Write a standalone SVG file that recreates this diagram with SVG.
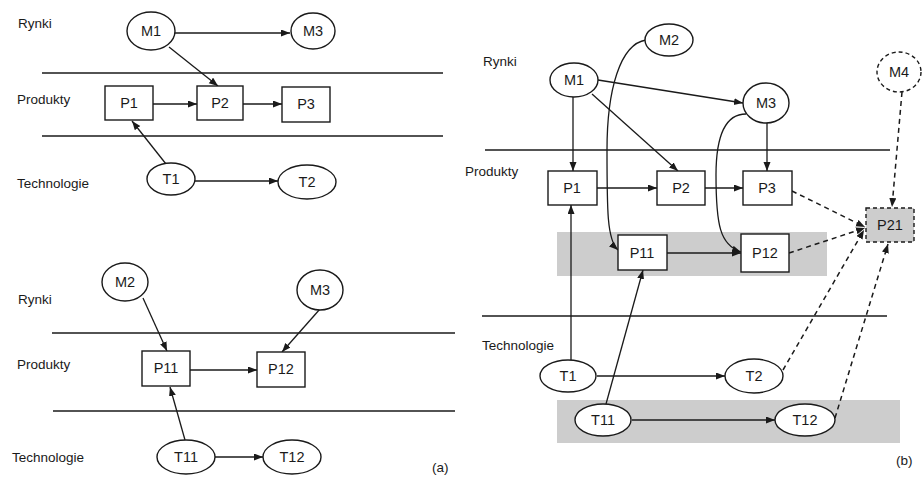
<svg xmlns="http://www.w3.org/2000/svg" width="922" height="478" viewBox="0 0 922 478">
<defs>
<marker id="ah" markerUnits="userSpaceOnUse" markerWidth="10" markerHeight="8" refX="9" refY="3.5" orient="auto"><path d="M0,0 L9,3.5 L0,7 z" fill="#1a1a1a"/></marker>
<style>
.n ellipse,.n rect{fill:#fff;stroke:#1a1a1a;stroke-width:1.4}
.n text,.lab{font-family:"Liberation Sans",Arial,sans-serif;fill:#1a1a1a}
.n text{font-size:14.5px;text-anchor:middle}
.lab{font-size:13.5px}
.sep{stroke:#1a1a1a;stroke-width:1.4}
.c path,.c line{fill:none;stroke:#1a1a1a;stroke-width:1.3;marker-end:url(#ah)}
.c .d{stroke-dasharray:5,4;stroke-width:1.5}
.dn rect,.dn ellipse{stroke-dasharray:4,3}
.band{fill:#cdcdcd}
</style>
</defs>
<rect width="922" height="478" fill="#fff"/>
<g id="labels">
<text class="lab" x="18" y="28">Rynki</text>
<text class="lab" x="17" y="104">Produkty</text>
<text class="lab" x="17" y="188">Technologie</text>
<text class="lab" x="18" y="304">Rynki</text>
<text class="lab" x="17" y="369">Produkty</text>
<text class="lab" x="12" y="462">Technologie</text>
<text class="lab" x="432" y="472">(a)</text>
<text class="lab" x="483" y="66">Rynki</text>
<text class="lab" x="465" y="176">Produkty</text>
<text class="lab" x="482" y="350">Technologie</text>
<text class="lab" x="896" y="465">(b)</text>
</g>
<g id="separators">
<line class="sep" x1="42" y1="73" x2="443" y2="73"/>
<line class="sep" x1="42" y1="136" x2="443" y2="136"/>
<line class="sep" x1="52" y1="333" x2="455" y2="333"/>
<line class="sep" x1="53" y1="411" x2="455" y2="411"/>
<line class="sep" x1="485" y1="150" x2="890" y2="150"/>
<line class="sep" x1="482" y1="316" x2="887" y2="316"/>
</g>
<g id="bands">
<rect class="band" x="557" y="232" width="270" height="44"/>
<rect class="band" x="557" y="400" width="343" height="43"/>
</g>
<g id="connectors" class="c">
<line x1="175" y1="33" x2="290" y2="33"/>
<line x1="169" y1="47" x2="218" y2="86"/>
<line x1="153" y1="104" x2="197" y2="104"/>
<line x1="243" y1="104" x2="282" y2="104"/>
<line x1="166" y1="164" x2="132" y2="121"/>
<line x1="195" y1="181" x2="278" y2="181"/>
<line x1="143" y1="298" x2="167" y2="351"/>
<line x1="320" y1="309" x2="282" y2="352"/>
<line x1="190" y1="370" x2="257" y2="370"/>
<line x1="185" y1="440" x2="170" y2="387"/>
<line x1="215" y1="457" x2="263" y2="457"/>
<line x1="598" y1="80" x2="743" y2="103"/>
<line x1="573" y1="97" x2="573" y2="171"/>
<line x1="592" y1="94" x2="678" y2="171"/>
<line x1="767" y1="123" x2="767" y2="171"/>
<line x1="597" y1="188" x2="657" y2="188"/>
<line x1="705" y1="188" x2="743" y2="188"/>
<path d="M646,40 C620,44 607,90 607,150 C607,210 607,240 618,250"/>
<path d="M746,114 C725,114 716,135 716,175 C716,225 720,245 741,252"/>
<line x1="667" y1="253" x2="741" y2="253"/>
<line x1="571" y1="360" x2="571" y2="205"/>
<line x1="606" y1="404" x2="643" y2="270"/>
<line x1="597" y1="376" x2="725" y2="376"/>
<line x1="632" y1="420" x2="775" y2="420"/>
<line class="d" x1="792" y1="191" x2="865" y2="227"/>
<line class="d" x1="789" y1="253" x2="865" y2="228"/>
<line class="d" x1="783" y1="370" x2="864" y2="230"/>
<line class="d" x1="835" y1="418" x2="888" y2="244"/>
<line class="d" x1="902" y1="92" x2="892" y2="207"/>
</g>
<g id="a_M1" class="n"><ellipse cx="151" cy="31" rx="24" ry="19"/><text x="151" y="36">M1</text></g>
<g id="a_M3" class="n"><ellipse cx="313" cy="31" rx="22" ry="18"/><text x="313" y="36">M3</text></g>
<g id="a_P1" class="n"><rect x="105" y="86" width="48" height="34"/><text x="129" y="108">P1</text></g>
<g id="a_P2" class="n"><rect x="197" y="86" width="46" height="34"/><text x="220" y="108">P2</text></g>
<g id="a_P3" class="n"><rect x="282" y="87" width="48" height="35"/><text x="306" y="109">P3</text></g>
<g id="a_T1" class="n"><ellipse cx="171" cy="179" rx="24" ry="16"/><text x="171" y="184">T1</text></g>
<g id="a_T2" class="n"><ellipse cx="307" cy="182" rx="29" ry="17"/><text x="307" y="187">T2</text></g>
<g id="a_M2" class="n"><ellipse cx="125" cy="282" rx="23" ry="19"/><text x="125" y="287">M2</text></g>
<g id="a_M3b" class="n"><ellipse cx="320" cy="290" rx="23" ry="20"/><text x="320" y="295">M3</text></g>
<g id="a_P11" class="n"><rect x="142" y="351" width="48" height="35"/><text x="166" y="373">P11</text></g>
<g id="a_P12" class="n"><rect x="257" y="352" width="48" height="35"/><text x="281" y="374">P12</text></g>
<g id="a_T11" class="n"><ellipse cx="186" cy="457" rx="29" ry="17"/><text x="186" y="462">T11</text></g>
<g id="a_T12" class="n"><ellipse cx="292" cy="457" rx="29" ry="17"/><text x="292" y="462">T12</text></g>
<g id="b_M2" class="n"><ellipse cx="669" cy="40" rx="24" ry="16"/><text x="669" y="45">M2</text></g>
<g id="b_M1" class="n"><ellipse cx="574" cy="80" rx="24" ry="17"/><text x="574" y="85">M1</text></g>
<g id="b_M3" class="n"><ellipse cx="766" cy="103" rx="23" ry="20"/><text x="766" y="108">M3</text></g>
<g id="b_M4" class="n dn"><ellipse cx="899" cy="72" rx="22" ry="20"/><text x="899" y="77">M4</text></g>
<g id="b_P1" class="n"><rect x="548" y="171" width="49" height="34"/><text x="572" y="193">P1</text></g>
<g id="b_P2" class="n"><rect x="657" y="171" width="48" height="34"/><text x="681" y="193">P2</text></g>
<g id="b_P3" class="n"><rect x="743" y="171" width="49" height="34"/><text x="767" y="193">P3</text></g>
<g id="b_P21" class="n dn"><rect x="866" y="208" width="48" height="34" style="fill:#cdcdcd"/><text x="890" y="230">P21</text></g>
<g id="b_P11" class="n"><rect x="618" y="235" width="49" height="35"/><text x="642" y="258">P11</text></g>
<g id="b_P12" class="n"><rect x="741" y="234" width="48" height="38"/><text x="765" y="258">P12</text></g>
<g id="b_T1" class="n"><ellipse cx="568" cy="376" rx="28" ry="16"/><text x="568" y="381">T1</text></g>
<g id="b_T2" class="n"><ellipse cx="754" cy="376" rx="29" ry="17"/><text x="754" y="381">T2</text></g>
<g id="b_T11" class="n"><ellipse cx="603" cy="420" rx="28" ry="16"/><text x="603" y="425">T11</text></g>
<g id="b_T12" class="n"><ellipse cx="805" cy="420" rx="30" ry="16"/><text x="805" y="425">T12</text></g>
</svg>
